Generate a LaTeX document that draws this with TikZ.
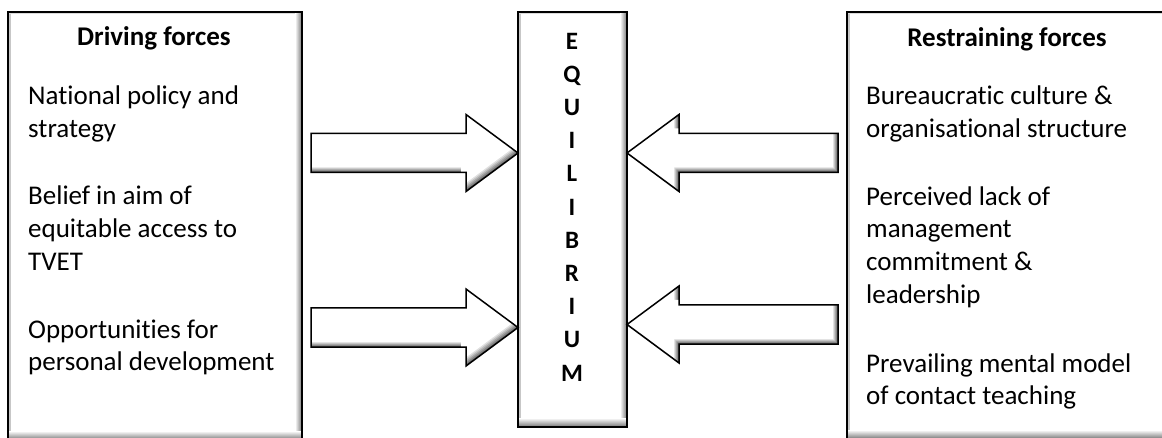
\documentclass[tikz,border=0pt]{standalone}
\usepackage{fontspec}
\setmainfont[Ligatures=NoCommon, Contextuals=NoAlternate]{Carlito}
\usetikzlibrary{calc}

\tikzset{
  x=1pt, y=-1pt,
  % white panel with a bevelled inner edge
  forcebox/.style={draw=black, line width=1.6pt, fill=white, inner sep=0pt, outer sep=0pt,
    path picture={
      \fill[black!22] (path picture bounding box.north west) rectangle ([xshift=2.5pt]path picture bounding box.south west);
      \fill[black!14] (path picture bounding box.north west) rectangle ([yshift=-2.5pt]path picture bounding box.north east);
      \shade[left color=white, right color=black!55] ([xshift=-7pt]path picture bounding box.north east) rectangle (path picture bounding box.south east);
      \shade[top color=white, bottom color=black!55] ([yshift=9pt]path picture bounding box.south west) rectangle (path picture bounding box.south east);
    }},
  % multi-line texts are placed by the baseline of their last line
  itemtext/.style={anchor=base west, align=left, inner sep=0pt, font=\fontsize{27}{32.7}\selectfont},
  headtext/.style={anchor=base, inner sep=0pt, font=\fontsize{27}{32.7}\selectfont\bfseries},
  vertword/.style={anchor=base, align=center, inner sep=0pt, font=\fontsize{25}{33.2}\selectfont\bfseries},
  arrowedge/.style={draw=black, line width=1.5pt, line join=miter},
}

% Block arrow from #2 (tail) to #3 (tip); its corners are named #1-1 ... #1-7
\newcommand\blockarrow[3]{%
  \path let \p1=(#2), \p2=(#3), \n1={ifthenelse(\x2>\x1,1,-1)} in
    coordinate (#1-1) at (\x1,\y2+19.5pt)
    coordinate (#1-2) at ({\x2-\n1*52pt},\y2+19.5pt)
    coordinate (#1-3) at ({\x2-\n1*52pt},\y2+38.5pt)
    coordinate (#1-4) at (\x2,\y2)
    coordinate (#1-5) at ({\x2-\n1*52pt},\y2-38.5pt)
    coordinate (#1-6) at ({\x2-\n1*52pt},\y2-19.5pt)
    coordinate (#1-7) at (\x1,\y2-19.5pt);
  \begin{scope}
    \clip (#1-1)--(#1-2)--(#1-3)--(#1-4)--(#1-5)--(#1-6)--(#1-7)--cycle;
    \fill[black!60] (#1-1)--(#1-2)--(#1-3)--(#1-4)--(#1-5)--(#1-6)--(#1-7)--cycle;
    \foreach \s/\c in {1/48,2/36,3/24,4/12,5/0}{
      \begin{scope}[transform canvas={shift={(-\s pt,\s pt)}}]
        \fill[black!\c] (#1-1)--(#1-2)--(#1-3)--(#1-4)--(#1-5)--(#1-6)--(#1-7)--cycle;
      \end{scope}
    }
  \end{scope}
  \draw[arrowedge] (#1-1)--(#1-2)--(#1-3)--(#1-4)--(#1-5)--(#1-6)--(#1-7)--cycle;
}

\begin{document}
\begin{tikzpicture}
  \useasboundingbox (0,0) rectangle (1162,438);

  % the three panels
  \node[forcebox, minimum width=294pt, minimum height=428pt, anchor=north west] (drive) at (8,12) {};
  \node[forcebox, minimum width=109pt, minimum height=415pt, anchor=north west] (eq) at (518,12) {};
  \node[forcebox, minimum width=325pt, minimum height=427pt, anchor=north west] (restrain) at (847,12) {};

  % driving forces
  \node[headtext] (dhead) at (154,46) {Driving forces};
  \node[itemtext] (d1) at (28,137.7) {National policy and\\strategy};
  \node[itemtext] (d2) at (28,270.4) {Belief in aim of\\equitable access to\\TVET};
  \node[itemtext] (d3) at (28,370.7) {Opportunities for\\personal development};

  % equilibrium, one letter per line
  \node[vertword] (eqword) at (572,381) {E\\Q\\U\\I\\L\\I\\B\\R\\I\\U\\M};

  % restraining forces
  \node[headtext] (rhead) at (1007,47) {Restraining forces};
  \node[itemtext] (r1) at (866,137.7) {Bureaucratic culture \&\\organisational structure};
  \node[itemtext] (r2) at (866,303.1) {Perceived lack of\\management\\commitment \&\\leadership};
  \node[itemtext] (r3) at (866,404.7) {Prevailing mental model\\of contact teaching};

  % forces pushing against the equilibrium
  \blockarrow{da}{$(drive.east |- 0,153)+(9,0)$}{eq.west |- 0,153}
  \blockarrow{db}{$(drive.east |- 0,327.5)+(9,0)$}{eq.west |- 0,327.5}
  \blockarrow{ra}{$(restrain.west |- 0,153)+(-9,0)$}{eq.east |- 0,153}
  \blockarrow{rb}{$(restrain.west |- 0,324.5)+(-9,0)$}{eq.east |- 0,324.5}
\end{tikzpicture}
\end{document}
